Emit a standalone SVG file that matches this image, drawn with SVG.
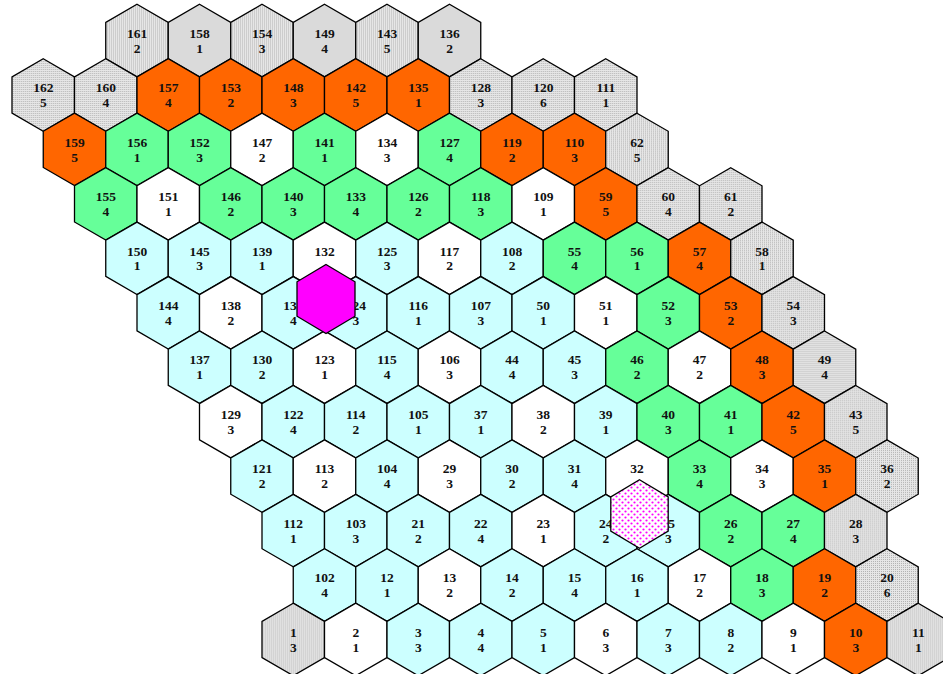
<svg xmlns="http://www.w3.org/2000/svg" width="943" height="674" viewBox="0 0 943 674">
<style>
.hx{stroke:#000;stroke-width:1.3;stroke-linejoin:miter}
.g{fill:url(#gp)}
.o{fill:#ff6600}
.gr{fill:#66ff99}
.c{fill:#ccffff}
.w{fill:#ffffff}
text{font-family:"Liberation Serif","Times New Roman",serif;font-weight:bold;font-size:13.5px;text-anchor:middle;fill:#111}
</style>
<defs>
<pattern id="gp" width="2" height="2" patternUnits="userSpaceOnUse">
<rect width="2" height="2" fill="#e6e6e6"/>
<rect width="1" height="1" fill="#b4b4b4"/>
</pattern>
<pattern id="mp" width="6" height="6" patternUnits="userSpaceOnUse">
<rect width="6" height="6" fill="#ffffff"/>
<circle cx="1.5" cy="1.5" r="1.1" fill="#ff00ff"/>
<circle cx="4.5" cy="4.5" r="1.1" fill="#ff00ff"/>
</pattern>
<polygon id="h" class="hx" points="0,-36.2 31.25,-18.1 31.25,18.1 0,36.2 -31.25,18.1 -31.25,-18.1"/>
</defs>
<rect width="943" height="674" fill="#ffffff"/>
<g id="nodes">
<!-- row 0 -->
<g id="n161" transform="translate(137 40.5)"><use href="#h" class="g"/><text y="-2.8">161<tspan x="0" dy="15">2</tspan></text></g>
<g id="n158" transform="translate(199.5 40.5)"><use href="#h" class="g"/><text y="-2.8">158<tspan x="0" dy="15">1</tspan></text></g>
<g id="n154" transform="translate(262 40.5)"><use href="#h" class="g"/><text y="-2.8">154<tspan x="0" dy="15">3</tspan></text></g>
<g id="n149" transform="translate(324.5 40.5)"><use href="#h" class="g"/><text y="-2.8">149<tspan x="0" dy="15">4</tspan></text></g>
<g id="n143" transform="translate(387 40.5)"><use href="#h" class="g"/><text y="-2.8">143<tspan x="0" dy="15">5</tspan></text></g>
<g id="n136" transform="translate(449.5 40.5)"><use href="#h" class="g"/><text y="-2.8">136<tspan x="0" dy="15">2</tspan></text></g>
<!-- row 1 -->
<g id="n162" transform="translate(43.25 95)"><use href="#h" class="g"/><text y="-2.8">162<tspan x="0" dy="15">5</tspan></text></g>
<g id="n160" transform="translate(105.75 95)"><use href="#h" class="g"/><text y="-2.8">160<tspan x="0" dy="15">4</tspan></text></g>
<g id="n157" transform="translate(168.25 95)"><use href="#h" class="o"/><text y="-2.8">157<tspan x="0" dy="15">4</tspan></text></g>
<g id="n153" transform="translate(230.75 95)"><use href="#h" class="o"/><text y="-2.8">153<tspan x="0" dy="15">2</tspan></text></g>
<g id="n148" transform="translate(293.25 95)"><use href="#h" class="o"/><text y="-2.8">148<tspan x="0" dy="15">3</tspan></text></g>
<g id="n142" transform="translate(355.75 95)"><use href="#h" class="o"/><text y="-2.8">142<tspan x="0" dy="15">5</tspan></text></g>
<g id="n135" transform="translate(418.25 95)"><use href="#h" class="o"/><text y="-2.8">135<tspan x="0" dy="15">1</tspan></text></g>
<g id="n128" transform="translate(480.75 95)"><use href="#h" class="g"/><text y="-2.8">128<tspan x="0" dy="15">3</tspan></text></g>
<g id="n120" transform="translate(543.25 95)"><use href="#h" class="g"/><text y="-2.8">120<tspan x="0" dy="15">6</tspan></text></g>
<g id="n111" transform="translate(605.75 95)"><use href="#h" class="g"/><text y="-2.8">111<tspan x="0" dy="15">1</tspan></text></g>
<!-- row 2 -->
<g id="n159" transform="translate(74.5 149.4)"><use href="#h" class="o"/><text y="-2.8">159<tspan x="0" dy="15">5</tspan></text></g>
<g id="n156" transform="translate(137 149.4)"><use href="#h" class="gr"/><text y="-2.8">156<tspan x="0" dy="15">1</tspan></text></g>
<g id="n152" transform="translate(199.5 149.4)"><use href="#h" class="gr"/><text y="-2.8">152<tspan x="0" dy="15">3</tspan></text></g>
<g id="n147" transform="translate(262 149.4)"><use href="#h" class="w"/><text y="-2.8">147<tspan x="0" dy="15">2</tspan></text></g>
<g id="n141" transform="translate(324.5 149.4)"><use href="#h" class="gr"/><text y="-2.8">141<tspan x="0" dy="15">1</tspan></text></g>
<g id="n134" transform="translate(387 149.4)"><use href="#h" class="w"/><text y="-2.8">134<tspan x="0" dy="15">3</tspan></text></g>
<g id="n127" transform="translate(449.5 149.4)"><use href="#h" class="gr"/><text y="-2.8">127<tspan x="0" dy="15">4</tspan></text></g>
<g id="n119" transform="translate(512 149.4)"><use href="#h" class="o"/><text y="-2.8">119<tspan x="0" dy="15">2</tspan></text></g>
<g id="n110" transform="translate(574.5 149.4)"><use href="#h" class="o"/><text y="-2.8">110<tspan x="0" dy="15">3</tspan></text></g>
<g id="n62" transform="translate(637 149.4)"><use href="#h" class="g"/><text y="-2.8">62<tspan x="0" dy="15">5</tspan></text></g>
<!-- row 3 -->
<g id="n155" transform="translate(105.75 203.9)"><use href="#h" class="gr"/><text y="-2.8">155<tspan x="0" dy="15">4</tspan></text></g>
<g id="n151" transform="translate(168.25 203.9)"><use href="#h" class="w"/><text y="-2.8">151<tspan x="0" dy="15">1</tspan></text></g>
<g id="n146" transform="translate(230.75 203.9)"><use href="#h" class="gr"/><text y="-2.8">146<tspan x="0" dy="15">2</tspan></text></g>
<g id="n140" transform="translate(293.25 203.9)"><use href="#h" class="gr"/><text y="-2.8">140<tspan x="0" dy="15">3</tspan></text></g>
<g id="n133" transform="translate(355.75 203.9)"><use href="#h" class="gr"/><text y="-2.8">133<tspan x="0" dy="15">4</tspan></text></g>
<g id="n126" transform="translate(418.25 203.9)"><use href="#h" class="gr"/><text y="-2.8">126<tspan x="0" dy="15">2</tspan></text></g>
<g id="n118" transform="translate(480.75 203.9)"><use href="#h" class="gr"/><text y="-2.8">118<tspan x="0" dy="15">3</tspan></text></g>
<g id="n109" transform="translate(543.25 203.9)"><use href="#h" class="w"/><text y="-2.8">109<tspan x="0" dy="15">1</tspan></text></g>
<g id="n59" transform="translate(605.75 203.9)"><use href="#h" class="o"/><text y="-2.8">59<tspan x="0" dy="15">5</tspan></text></g>
<g id="n60" transform="translate(668.25 203.9)"><use href="#h" class="g"/><text y="-2.8">60<tspan x="0" dy="15">4</tspan></text></g>
<g id="n61" transform="translate(730.75 203.9)"><use href="#h" class="g"/><text y="-2.8">61<tspan x="0" dy="15">2</tspan></text></g>
<!-- row 4 -->
<g id="n150" transform="translate(137 258.3)"><use href="#h" class="c"/><text y="-2.8">150<tspan x="0" dy="15">1</tspan></text></g>
<g id="n145" transform="translate(199.5 258.3)"><use href="#h" class="c"/><text y="-2.8">145<tspan x="0" dy="15">3</tspan></text></g>
<g id="n139" transform="translate(262 258.3)"><use href="#h" class="c"/><text y="-2.8">139<tspan x="0" dy="15">1</tspan></text></g>
<g id="n132" transform="translate(324.5 258.3)"><use href="#h" class="w"/><text y="-2.8">132</text></g>
<g id="n125" transform="translate(387 258.3)"><use href="#h" class="c"/><text y="-2.8">125<tspan x="0" dy="15">3</tspan></text></g>
<g id="n117" transform="translate(449.5 258.3)"><use href="#h" class="w"/><text y="-2.8">117<tspan x="0" dy="15">2</tspan></text></g>
<g id="n108" transform="translate(512 258.3)"><use href="#h" class="c"/><text y="-2.8">108<tspan x="0" dy="15">2</tspan></text></g>
<g id="n55" transform="translate(574.5 258.3)"><use href="#h" class="gr"/><text y="-2.8">55<tspan x="0" dy="15">4</tspan></text></g>
<g id="n56" transform="translate(637 258.3)"><use href="#h" class="gr"/><text y="-2.8">56<tspan x="0" dy="15">1</tspan></text></g>
<g id="n57" transform="translate(699.5 258.3)"><use href="#h" class="o"/><text y="-2.8">57<tspan x="0" dy="15">4</tspan></text></g>
<g id="n58" transform="translate(762 258.3)"><use href="#h" class="g"/><text y="-2.8">58<tspan x="0" dy="15">1</tspan></text></g>
<!-- row 5 -->
<g id="n144" transform="translate(168.25 312.8)"><use href="#h" class="c"/><text y="-2.8">144<tspan x="0" dy="15">4</tspan></text></g>
<g id="n138" transform="translate(230.75 312.8)"><use href="#h" class="w"/><text y="-2.8">138<tspan x="0" dy="15">2</tspan></text></g>
<g id="n131" transform="translate(293.25 312.8)"><use href="#h" class="c"/><text y="-2.8">131<tspan x="0" dy="15">4</tspan></text></g>
<g id="n124" transform="translate(355.75 312.8)"><use href="#h" class="c"/><text y="-2.8">124<tspan x="0" dy="15">3</tspan></text></g>
<g id="n116" transform="translate(418.25 312.8)"><use href="#h" class="c"/><text y="-2.8">116<tspan x="0" dy="15">1</tspan></text></g>
<g id="n107" transform="translate(480.75 312.8)"><use href="#h" class="c"/><text y="-2.8">107<tspan x="0" dy="15">3</tspan></text></g>
<g id="n50" transform="translate(543.25 312.8)"><use href="#h" class="c"/><text y="-2.8">50<tspan x="0" dy="15">1</tspan></text></g>
<g id="n51" transform="translate(605.75 312.8)"><use href="#h" class="w"/><text y="-2.8">51<tspan x="0" dy="15">1</tspan></text></g>
<g id="n52" transform="translate(668.25 312.8)"><use href="#h" class="gr"/><text y="-2.8">52<tspan x="0" dy="15">3</tspan></text></g>
<g id="n53" transform="translate(730.75 312.8)"><use href="#h" class="o"/><text y="-2.8">53<tspan x="0" dy="15">2</tspan></text></g>
<g id="n54" transform="translate(793.25 312.8)"><use href="#h" class="g"/><text y="-2.8">54<tspan x="0" dy="15">3</tspan></text></g>
<!-- row 6 -->
<g id="n137" transform="translate(199.5 367.2)"><use href="#h" class="c"/><text y="-2.8">137<tspan x="0" dy="15">1</tspan></text></g>
<g id="n130" transform="translate(262 367.2)"><use href="#h" class="c"/><text y="-2.8">130<tspan x="0" dy="15">2</tspan></text></g>
<g id="n123" transform="translate(324.5 367.2)"><use href="#h" class="w"/><text y="-2.8">123<tspan x="0" dy="15">1</tspan></text></g>
<g id="n115" transform="translate(387 367.2)"><use href="#h" class="c"/><text y="-2.8">115<tspan x="0" dy="15">4</tspan></text></g>
<g id="n106" transform="translate(449.5 367.2)"><use href="#h" class="w"/><text y="-2.8">106<tspan x="0" dy="15">3</tspan></text></g>
<g id="n44" transform="translate(512 367.2)"><use href="#h" class="c"/><text y="-2.8">44<tspan x="0" dy="15">4</tspan></text></g>
<g id="n45" transform="translate(574.5 367.2)"><use href="#h" class="c"/><text y="-2.8">45<tspan x="0" dy="15">3</tspan></text></g>
<g id="n46" transform="translate(637 367.2)"><use href="#h" class="gr"/><text y="-2.8">46<tspan x="0" dy="15">2</tspan></text></g>
<g id="n47" transform="translate(699.5 367.2)"><use href="#h" class="w"/><text y="-2.8">47<tspan x="0" dy="15">2</tspan></text></g>
<g id="n48" transform="translate(762 367.2)"><use href="#h" class="o"/><text y="-2.8">48<tspan x="0" dy="15">3</tspan></text></g>
<g id="n49" transform="translate(824.5 367.2)"><use href="#h" class="g"/><text y="-2.8">49<tspan x="0" dy="15">4</tspan></text></g>
<!-- row 7 -->
<g id="n129" transform="translate(230.75 421.7)"><use href="#h" class="w"/><text y="-2.8">129<tspan x="0" dy="15">3</tspan></text></g>
<g id="n122" transform="translate(293.25 421.7)"><use href="#h" class="c"/><text y="-2.8">122<tspan x="0" dy="15">4</tspan></text></g>
<g id="n114" transform="translate(355.75 421.7)"><use href="#h" class="c"/><text y="-2.8">114<tspan x="0" dy="15">2</tspan></text></g>
<g id="n105" transform="translate(418.25 421.7)"><use href="#h" class="c"/><text y="-2.8">105<tspan x="0" dy="15">1</tspan></text></g>
<g id="n37" transform="translate(480.75 421.7)"><use href="#h" class="c"/><text y="-2.8">37<tspan x="0" dy="15">1</tspan></text></g>
<g id="n38" transform="translate(543.25 421.7)"><use href="#h" class="w"/><text y="-2.8">38<tspan x="0" dy="15">2</tspan></text></g>
<g id="n39" transform="translate(605.75 421.7)"><use href="#h" class="c"/><text y="-2.8">39<tspan x="0" dy="15">1</tspan></text></g>
<g id="n40" transform="translate(668.25 421.7)"><use href="#h" class="gr"/><text y="-2.8">40<tspan x="0" dy="15">3</tspan></text></g>
<g id="n41" transform="translate(730.75 421.7)"><use href="#h" class="gr"/><text y="-2.8">41<tspan x="0" dy="15">1</tspan></text></g>
<g id="n42" transform="translate(793.25 421.7)"><use href="#h" class="o"/><text y="-2.8">42<tspan x="0" dy="15">5</tspan></text></g>
<g id="n43" transform="translate(855.75 421.7)"><use href="#h" class="g"/><text y="-2.8">43<tspan x="0" dy="15">5</tspan></text></g>
<!-- row 8 -->
<g id="n121" transform="translate(262 476.1)"><use href="#h" class="c"/><text y="-2.8">121<tspan x="0" dy="15">2</tspan></text></g>
<g id="n113" transform="translate(324.5 476.1)"><use href="#h" class="w"/><text y="-2.8">113<tspan x="0" dy="15">2</tspan></text></g>
<g id="n104" transform="translate(387 476.1)"><use href="#h" class="c"/><text y="-2.8">104<tspan x="0" dy="15">4</tspan></text></g>
<g id="n29" transform="translate(449.5 476.1)"><use href="#h" class="w"/><text y="-2.8">29<tspan x="0" dy="15">3</tspan></text></g>
<g id="n30" transform="translate(512 476.1)"><use href="#h" class="c"/><text y="-2.8">30<tspan x="0" dy="15">2</tspan></text></g>
<g id="n31" transform="translate(574.5 476.1)"><use href="#h" class="c"/><text y="-2.8">31<tspan x="0" dy="15">4</tspan></text></g>
<g id="n32" transform="translate(637 476.1)"><use href="#h" class="w"/><text y="-2.8">32</text></g>
<g id="n33" transform="translate(699.5 476.1)"><use href="#h" class="gr"/><text y="-2.8">33<tspan x="0" dy="15">4</tspan></text></g>
<g id="n34" transform="translate(762 476.1)"><use href="#h" class="w"/><text y="-2.8">34<tspan x="0" dy="15">3</tspan></text></g>
<g id="n35" transform="translate(824.5 476.1)"><use href="#h" class="o"/><text y="-2.8">35<tspan x="0" dy="15">1</tspan></text></g>
<g id="n36" transform="translate(887 476.1)"><use href="#h" class="g"/><text y="-2.8">36<tspan x="0" dy="15">2</tspan></text></g>
<!-- row 9 -->
<g id="n112" transform="translate(293.25 530.6)"><use href="#h" class="c"/><text y="-2.8">112<tspan x="0" dy="15">1</tspan></text></g>
<g id="n103" transform="translate(355.75 530.6)"><use href="#h" class="c"/><text y="-2.8">103<tspan x="0" dy="15">3</tspan></text></g>
<g id="n21" transform="translate(418.25 530.6)"><use href="#h" class="c"/><text y="-2.8">21<tspan x="0" dy="15">2</tspan></text></g>
<g id="n22" transform="translate(480.75 530.6)"><use href="#h" class="c"/><text y="-2.8">22<tspan x="0" dy="15">4</tspan></text></g>
<g id="n23" transform="translate(543.25 530.6)"><use href="#h" class="w"/><text y="-2.8">23<tspan x="0" dy="15">1</tspan></text></g>
<g id="n24" transform="translate(605.75 530.6)"><use href="#h" class="c"/><text y="-2.8">24<tspan x="0" dy="15">2</tspan></text></g>
<g id="n25" transform="translate(668.25 530.6)"><use href="#h" class="c"/><text y="-2.8">25<tspan x="0" dy="15">3</tspan></text></g>
<g id="n26" transform="translate(730.75 530.6)"><use href="#h" class="gr"/><text y="-2.8">26<tspan x="0" dy="15">2</tspan></text></g>
<g id="n27" transform="translate(793.25 530.6)"><use href="#h" class="gr"/><text y="-2.8">27<tspan x="0" dy="15">4</tspan></text></g>
<g id="n28" transform="translate(855.75 530.6)"><use href="#h" class="g"/><text y="-2.8">28<tspan x="0" dy="15">3</tspan></text></g>
<!-- row 10 -->
<g id="n102" transform="translate(324.5 585)"><use href="#h" class="c"/><text y="-2.8">102<tspan x="0" dy="15">4</tspan></text></g>
<g id="n12" transform="translate(387 585)"><use href="#h" class="c"/><text y="-2.8">12<tspan x="0" dy="15">1</tspan></text></g>
<g id="n13" transform="translate(449.5 585)"><use href="#h" class="w"/><text y="-2.8">13<tspan x="0" dy="15">2</tspan></text></g>
<g id="n14" transform="translate(512 585)"><use href="#h" class="c"/><text y="-2.8">14<tspan x="0" dy="15">2</tspan></text></g>
<g id="n15" transform="translate(574.5 585)"><use href="#h" class="c"/><text y="-2.8">15<tspan x="0" dy="15">4</tspan></text></g>
<g id="n16" transform="translate(637 585)"><use href="#h" class="c"/><text y="-2.8">16<tspan x="0" dy="15">1</tspan></text></g>
<g id="n17" transform="translate(699.5 585)"><use href="#h" class="w"/><text y="-2.8">17<tspan x="0" dy="15">2</tspan></text></g>
<g id="n18" transform="translate(762 585)"><use href="#h" class="gr"/><text y="-2.8">18<tspan x="0" dy="15">3</tspan></text></g>
<g id="n19" transform="translate(824.5 585)"><use href="#h" class="o"/><text y="-2.8">19<tspan x="0" dy="15">2</tspan></text></g>
<g id="n20" transform="translate(887 585)"><use href="#h" class="g"/><text y="-2.8">20<tspan x="0" dy="15">6</tspan></text></g>
<!-- row 11 -->
<g id="n1" transform="translate(293.25 639.5)"><use href="#h" class="g"/><text y="-2.8">1<tspan x="0" dy="15">3</tspan></text></g>
<g id="n2" transform="translate(355.75 639.5)"><use href="#h" class="w"/><text y="-2.8">2<tspan x="0" dy="15">1</tspan></text></g>
<g id="n3" transform="translate(418.25 639.5)"><use href="#h" class="c"/><text y="-2.8">3<tspan x="0" dy="15">3</tspan></text></g>
<g id="n4" transform="translate(480.75 639.5)"><use href="#h" class="c"/><text y="-2.8">4<tspan x="0" dy="15">4</tspan></text></g>
<g id="n5" transform="translate(543.25 639.5)"><use href="#h" class="c"/><text y="-2.8">5<tspan x="0" dy="15">1</tspan></text></g>
<g id="n6" transform="translate(605.75 639.5)"><use href="#h" class="w"/><text y="-2.8">6<tspan x="0" dy="15">3</tspan></text></g>
<g id="n7" transform="translate(668.25 639.5)"><use href="#h" class="c"/><text y="-2.8">7<tspan x="0" dy="15">3</tspan></text></g>
<g id="n8" transform="translate(730.75 639.5)"><use href="#h" class="c"/><text y="-2.8">8<tspan x="0" dy="15">2</tspan></text></g>
<g id="n9" transform="translate(793.25 639.5)"><use href="#h" class="w"/><text y="-2.8">9<tspan x="0" dy="15">1</tspan></text></g>
<g id="n10" transform="translate(855.75 639.5)"><use href="#h" class="o"/><text y="-2.8">10<tspan x="0" dy="15">3</tspan></text></g>
<g id="n11" transform="translate(918.25 639.5)"><use href="#h" class="g"/><text y="-2.8">11<tspan x="0" dy="15">1</tspan></text></g>
</g>
<g id="markers">
<polygon id="mark-solid" class="hx" fill="#ff00ff" stroke-width="1" points="326,264.5 355,281.75 355,316.25 326,333.5 297,316.25 297,281.75"/>
<polygon id="mark-dotted" class="hx" fill="url(#mp)" stroke-width="1" points="639.5,479.8 668.2,496.9 668.2,531.1 639.5,548.2 610.8,531.1 610.8,496.9"/>
</g>
<g id="connectors"/>
</svg>
